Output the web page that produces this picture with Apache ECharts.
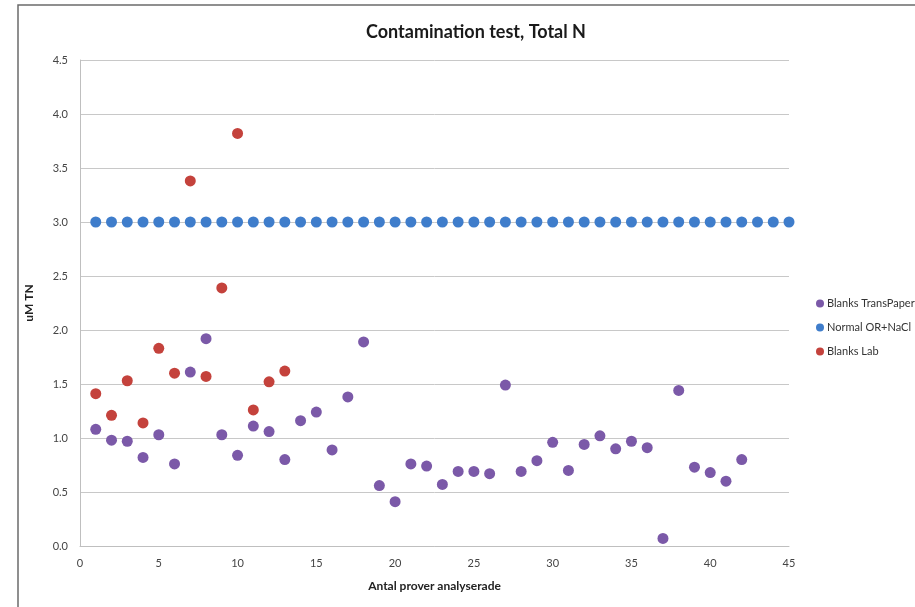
<!DOCTYPE html>
<html>
<head>
<meta charset="utf-8">
<script src="https://cdn.jsdelivr.net/npm/echarts@6/dist/echarts.min.js"></script>
<style>
  html, body { margin: 0; padding: 0; background: #fff; }
  #chart { width: 915px; height: 607px; }
</style>
</head>
<body>
<div id="chart"></div>
<script>
// sample numbers along the x axis
const samplesTrans = [1, 2, 3, 4, 5, 6, 7, 8, 9, 10, 11, 12, 13, 14, 15, 16, 17, 18, 19, 20, 21,
  22, 23, 24, 25, 26, 27, 28, 29, 30, 31, 32, 33, 34, 35, 36, 37, 38, 39, 40, 41, 42];
const valuesTrans = [1.08, 0.98, 0.97, 0.82, 1.03, 0.76, 1.61, 1.92, 1.03, 0.84, 1.11, 1.06, 0.80,
  1.16, 1.24, 0.89, 1.38, 1.89, 0.56, 0.41, 0.76, 0.74, 0.57, 0.69, 0.69, 0.67, 1.49, 0.69, 0.79,
  0.96, 0.70, 0.94, 1.02, 0.90, 0.97, 0.91, 0.07, 1.44, 0.73, 0.68, 0.60, 0.80];

const samplesNormal = [1, 2, 3, 4, 5, 6, 7, 8, 9, 10, 11, 12, 13, 14, 15, 16, 17, 18, 19, 20, 21,
  22, 23, 24, 25, 26, 27, 28, 29, 30, 31, 32, 33, 34, 35, 36, 37, 38, 39, 40, 41, 42, 43, 44, 45];
const valuesNormal = [3, 3, 3, 3, 3, 3, 3, 3, 3, 3, 3, 3, 3, 3, 3, 3, 3, 3, 3, 3, 3, 3, 3, 3, 3,
  3, 3, 3, 3, 3, 3, 3, 3, 3, 3, 3, 3, 3, 3, 3, 3, 3, 3, 3, 3];

const samplesLab = [1, 2, 3, 4, 5, 6, 7, 8, 9, 10, 11, 12, 13];
const valuesLab = [1.41, 1.21, 1.53, 1.14, 1.83, 1.60, 3.38, 1.57, 2.39, 3.82, 1.26, 1.52, 1.62];

const seriesNames = ['Blanks TransPaper', 'Normal OR+NaCl', 'Blanks Lab'];
const seriesColors = ['#7b59a8', '#3f7dcb', '#c4423c'];

function pairs(xs, ys) {
  return xs.map((x, i) => [x, ys[i]]);
}

const font = 'Lato, "Open Sans", sans-serif';
const chart = echarts.init(document.getElementById('chart'));

chart.setOption({
  animation: false,
  backgroundColor: '#fff',
  textStyle: { fontFamily: font },
  graphic: [{
    type: 'rect',
    shape: { x: 18, y: 5, width: 920, height: 620 },
    style: { fill: 'none', stroke: '#6b6b6b', lineWidth: 1.5 },
    silent: true
  }],
  title: {
    text: 'Contamination test, Total N',
    left: 471,
    top: 18,
    textAlign: 'center',
    textStyle: { fontFamily: font, fontSize: 18, fontWeight: 'bold', color: '#1a1a1a' }
  },
  legend: {
    orient: 'vertical',
    left: 811,
    top: 293,
    itemGap: 13,
    itemWidth: 8,
    itemHeight: 8,
    icon: 'circle',
    data: seriesNames,
    textStyle: { fontFamily: font, fontSize: 11, color: '#333', padding: [0, 0, 0, -2] }
  },
  grid: { left: 80, right: 126, top: 60, bottom: 61 },
  xAxis: {
    type: 'value',
    min: 0,
    max: 45,
    interval: 5,
    name: 'Antal prover analyserade',
    nameLocation: 'middle',
    nameGap: 34,
    nameTextStyle: { fontFamily: font, fontSize: 12, fontWeight: 'bold', color: '#222' },
    axisLine: { lineStyle: { color: '#bfbfbf' } },
    axisTick: { show: false },
    splitLine: { show: false },
    axisLabel: { fontFamily: font, fontSize: 11, color: '#444', margin: 12 }
  },
  yAxis: {
    type: 'value',
    min: 0,
    max: 4.5,
    interval: 0.5,
    name: 'uM TN',
    nameLocation: 'middle',
    nameRotate: 90,
    nameGap: 45,
    nameTextStyle: { fontFamily: font, fontSize: 12, fontWeight: 'bold', color: '#222' },
    axisLine: { show: true, lineStyle: { color: '#bfbfbf' } },
    axisTick: { show: false },
    splitLine: { lineStyle: { color: '#c8c8c8' } },
    axisLabel: {
      fontFamily: font, fontSize: 11, color: '#444', margin: 12,
      formatter: v => v.toFixed(1)
    }
  },
  series: [
    {
      name: seriesNames[0],
      type: 'scatter',
      symbolSize: 11,
      itemStyle: { color: seriesColors[0], opacity: 1 },
      data: pairs(samplesTrans, valuesTrans)
    },
    {
      name: seriesNames[1],
      type: 'scatter',
      symbolSize: 11,
      itemStyle: { color: seriesColors[1], opacity: 1 },
      data: pairs(samplesNormal, valuesNormal)
    },
    {
      name: seriesNames[2],
      type: 'scatter',
      symbolSize: 11,
      itemStyle: { color: seriesColors[2], opacity: 1 },
      data: pairs(samplesLab, valuesLab)
    }
  ]
});
</script>
</body>
</html>
